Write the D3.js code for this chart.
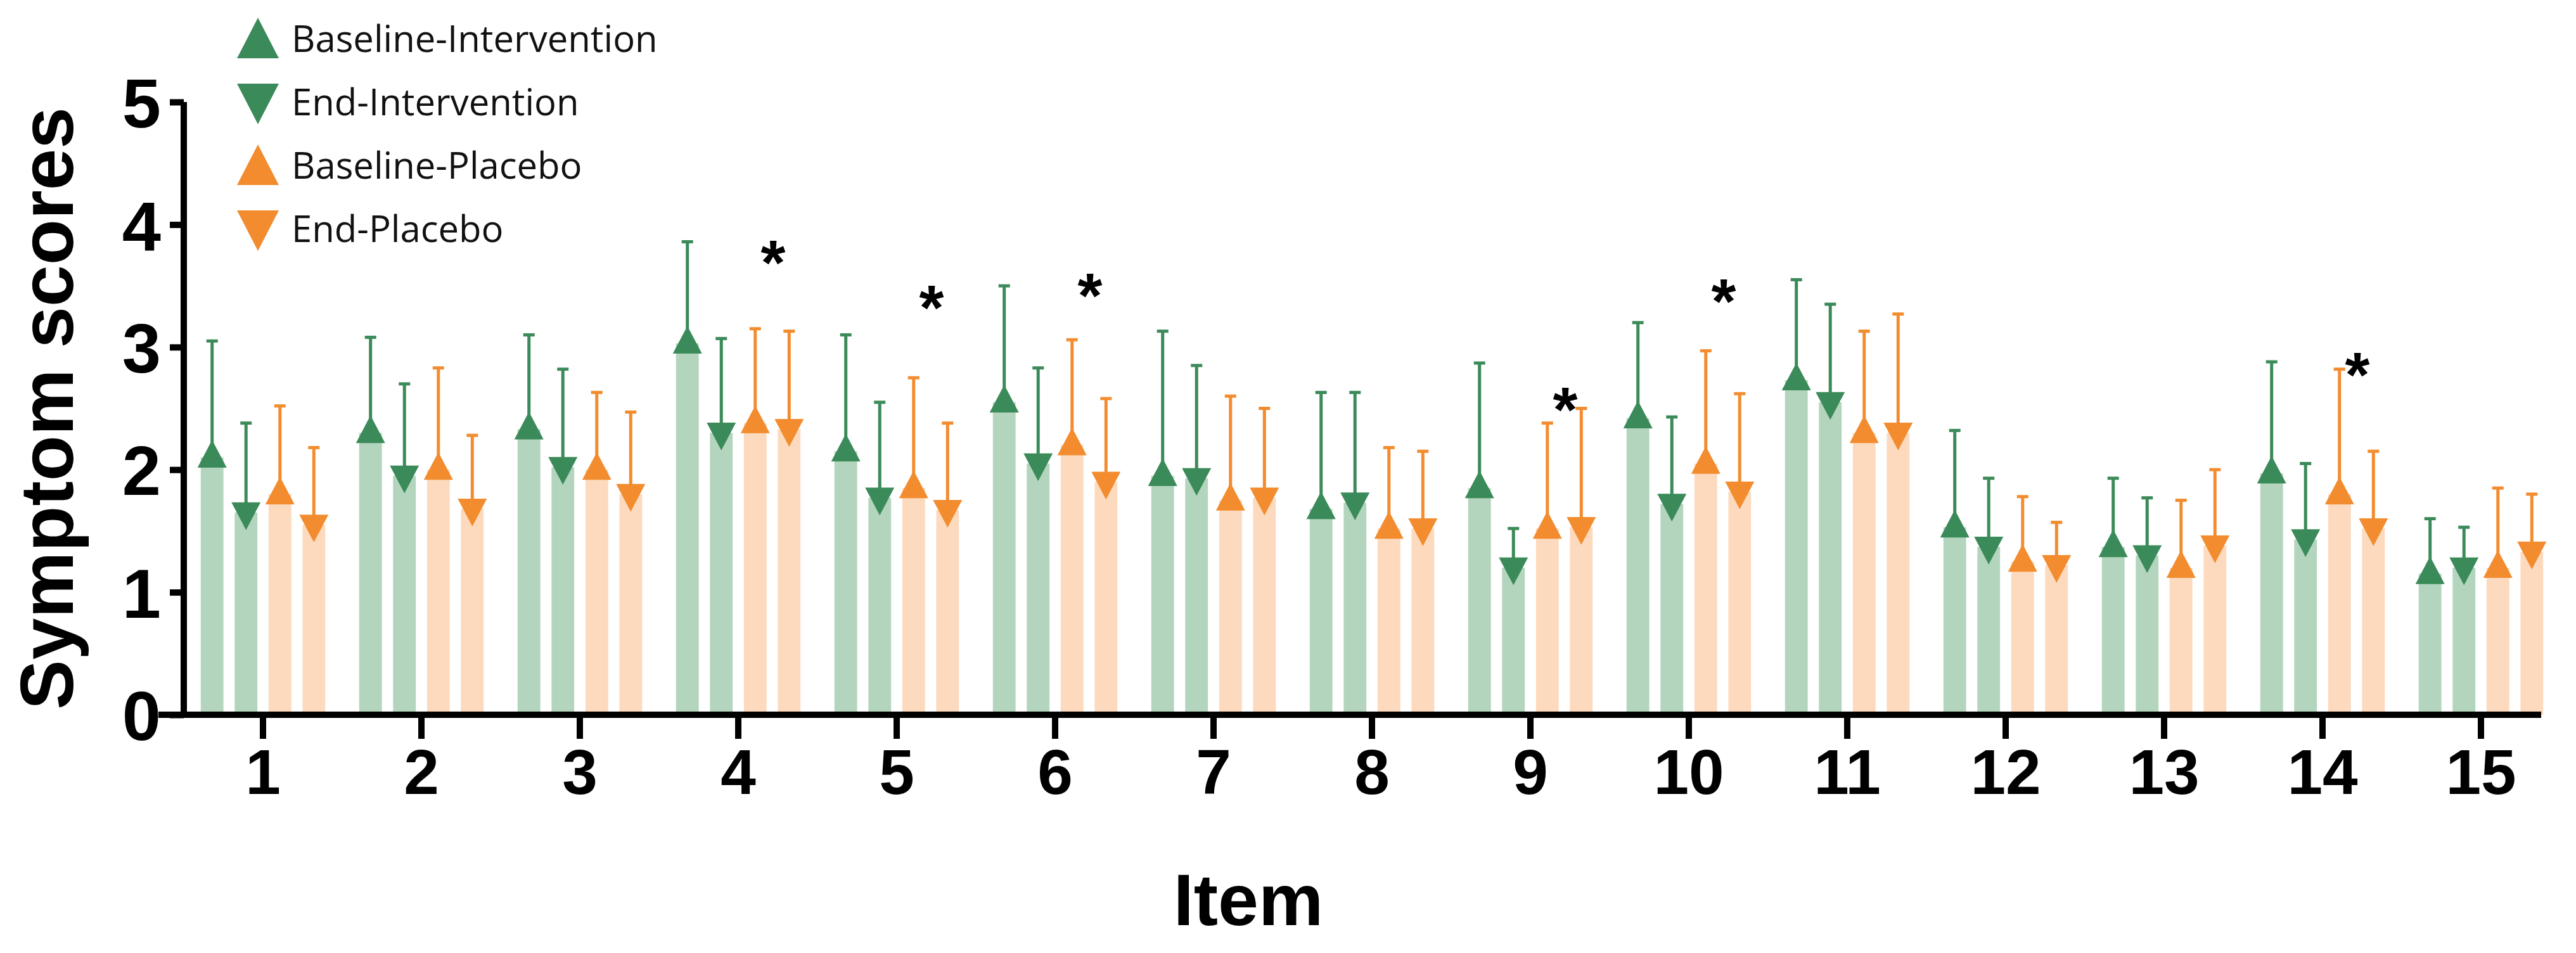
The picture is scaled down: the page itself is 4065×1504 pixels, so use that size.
<!DOCTYPE html>
<html><head><meta charset="utf-8">
<script src="https://cdn.jsdelivr.net/npm/d3@7"></script>
<style>body{margin:0;background:#fff}</style>
</head><body><svg id="chart" width="4065" height="1504"></svg>
<script>
const items = ['1','2','3','4','5','6','7','8','9','10','11','12','13','14','15']
const seriesNames = ['Baseline-Intervention', 'End-Intervention', 'Baseline-Placebo', 'End-Placebo']
const baseInt = [2.1, 2.3, 2.33, 3.03, 2.15, 2.55, 1.95, 1.68, 1.85, 2.42, 2.73, 1.53, 1.37, 1.97, 1.15]
const baseIntErr = [3.05, 3.08, 3.1, 3.86, 3.1, 3.5, 3.13, 2.63, 2.87, 3.2, 3.55, 2.32, 1.93, 2.88, 1.6]
const endInt = [1.65, 1.95, 2.02, 2.3, 1.77, 2.05, 1.93, 1.73, 1.2, 1.72, 2.55, 1.37, 1.3, 1.43, 1.2]
const endIntErr = [2.38, 2.7, 2.82, 3.07, 2.55, 2.83, 2.85, 2.63, 1.52, 2.43, 3.35, 1.93, 1.77, 2.05, 1.53]
const basePla = [1.8, 2.0, 2.0, 2.38, 1.85, 2.2, 1.75, 1.52, 1.52, 2.05, 2.3, 1.25, 1.2, 1.8, 1.2]
const basePlaErr = [2.52, 2.83, 2.63, 3.15, 2.75, 3.06, 2.6, 2.18, 2.38, 2.97, 3.13, 1.78, 1.75, 2.82, 1.85]
const endPla = [1.55, 1.68, 1.8, 2.33, 1.67, 1.9, 1.77, 1.52, 1.53, 1.82, 2.3, 1.22, 1.38, 1.52, 1.33]
const endPlaErr = [2.18, 2.28, 2.47, 3.13, 2.38, 2.58, 2.5, 2.15, 2.5, 2.62, 3.27, 1.57, 2.0, 2.15, 1.8]
const starItems = ['4', '5', '6', '9', '10', '14']
const starY = [3.72, 3.35, 3.45, 2.52, 3.4, 2.8]
const yTicks = [0, 1, 2, 3, 4, 5]

const series = [
  {name: seriesNames[0], vals: baseInt, err: baseIntErr, dark: '#3b8a59', light: '#b4d5bd', up: true},
  {name: seriesNames[1], vals: endInt, err: endIntErr, dark: '#3b8a59', light: '#b4d5bd', up: false},
  {name: seriesNames[2], vals: basePla, err: basePlaErr, dark: '#f28c2e', light: '#fddabd', up: true},
  {name: seriesNames[3], vals: endPla, err: endPlaErr, dark: '#f28c2e', light: '#fddabd', up: false}
]

const svg = d3.select('#chart')
const x = d3.scaleBand().domain(items).range([290, 4040])
const sub = d3.scaleBand().domain(d3.range(4)).range([0, x.bandwidth()]).paddingInner(0.33).paddingOuter(0.5)
const y = d3.scaleLinear().domain([0, 5]).range([1128, 161])
const bw = sub.bandwidth()
const tri = 46

series.forEach((s, si) => {
  const g = svg.append('g')
  const cx = d => x(items[d]) + sub(si) + bw / 2
  const idx = d3.range(items.length)
  g.selectAll('rect').data(idx).enter().append('rect')
    .attr('x', d => x(items[d]) + sub(si))
    .attr('y', d => y(s.vals[d]))
    .attr('width', bw)
    .attr('height', d => y(0) - y(s.vals[d]))
    .attr('fill', s.light)
  g.selectAll('line.err').data(idx).enter().append('line')
    .attr('x1', cx).attr('x2', cx)
    .attr('y1', d => y(s.vals[d])).attr('y2', d => y(s.err[d]))
    .attr('stroke', s.dark).attr('stroke-width', 5)
  g.selectAll('line.cap').data(idx).enter().append('line')
    .attr('x1', d => cx(d) - 9).attr('x2', d => cx(d) + 9)
    .attr('y1', d => y(s.err[d])).attr('y2', d => y(s.err[d]))
    .attr('stroke', s.dark).attr('stroke-width', 5)
  g.selectAll('path').data(idx).enter().append('path')
    .attr('transform', d => `translate(${cx(d)},${y(s.vals[d])})`)
    .attr('d', s.up ? `M${-tri/2},${tri*0.35}L0,${-tri*0.6}L${tri/2},${tri*0.35}Z`
                    : `M${-tri/2},${-tri*0.35}L0,${tri*0.6}L${tri/2},${-tri*0.35}Z`)
    .attr('fill', s.dark)
})

svg.selectAll('text.star').data(starItems).enter().append('text')
  .attr('x', (d, i) => x(d) + x.bandwidth() * 0.72)
  .attr('y', (d, i) => y(starY[i]) + 40)
  .attr('text-anchor', 'middle')
  .attr('font-family', 'Liberation Sans, Arial, sans-serif')
  .attr('font-weight', 'bold').attr('font-size', 100)
  .text('*')

const yAxis = svg.append('g').attr('transform', 'translate(290,0)')
  .call(d3.axisLeft(y).tickValues(yTicks).tickFormat(d3.format('d')).tickSize(22).tickPadding(14))
yAxis.select('.domain').attr('stroke-width', 10).attr('d', `M0,${y(5)}V${y(0) + 5}`)
yAxis.selectAll('.tick line').attr('stroke-width', 10)
yAxis.selectAll('text').attr('font-family', 'Liberation Sans, Arial, sans-serif')
  .attr('font-weight', 'bold').attr('font-size', 110).attr('dy', '0.36em').attr('fill', '#000')

const xAxis = svg.append('g').attr('transform', `translate(0,${y(0)})`)
  .call(d3.axisBottom(x).tickSize(38).tickPadding(16))
xAxis.select('.domain').attr('stroke-width', 10).attr('d', `M250,0H4010`)
xAxis.selectAll('.tick line').attr('stroke-width', 10)
xAxis.selectAll('text').attr('font-family', 'Liberation Sans, Arial, sans-serif')
  .attr('font-weight', 'bold').attr('font-size', 100).attr('fill', '#000')

svg.append('text')
  .attr('transform', `translate(115,${(y(0) + y(5)) / 2}) rotate(-90)`)
  .attr('text-anchor', 'middle')
  .attr('font-family', 'Liberation Sans, Arial, sans-serif')
  .attr('font-weight', 'bold').attr('font-size', 118)
  .text('Symptom scores')

svg.append('text')
  .attr('x', 1970).attr('y', 1460)
  .attr('text-anchor', 'middle')
  .attr('font-family', 'Liberation Sans, Arial, sans-serif')
  .attr('font-weight', 'bold').attr('font-size', 115)
  .text('Item')

const legend = svg.append('g')
series.forEach((s, i) => {
  const ly = 62 + i * 100
  legend.append('path')
    .attr('transform', `translate(407,${ly})`)
    .attr('d', s.up ? 'M-33,30L0,-34L33,30Z' : 'M-33,-30L0,34L33,-30Z')
    .attr('fill', s.dark)
  legend.append('text')
    .attr('x', 460).attr('y', ly).attr('dy', '0.35em')
    .attr('font-family', 'Open Sans, Noto Sans, sans-serif')
    .attr('font-size', 58).attr('fill', '#111')
    .text(s.name)
})
</script></body></html>
